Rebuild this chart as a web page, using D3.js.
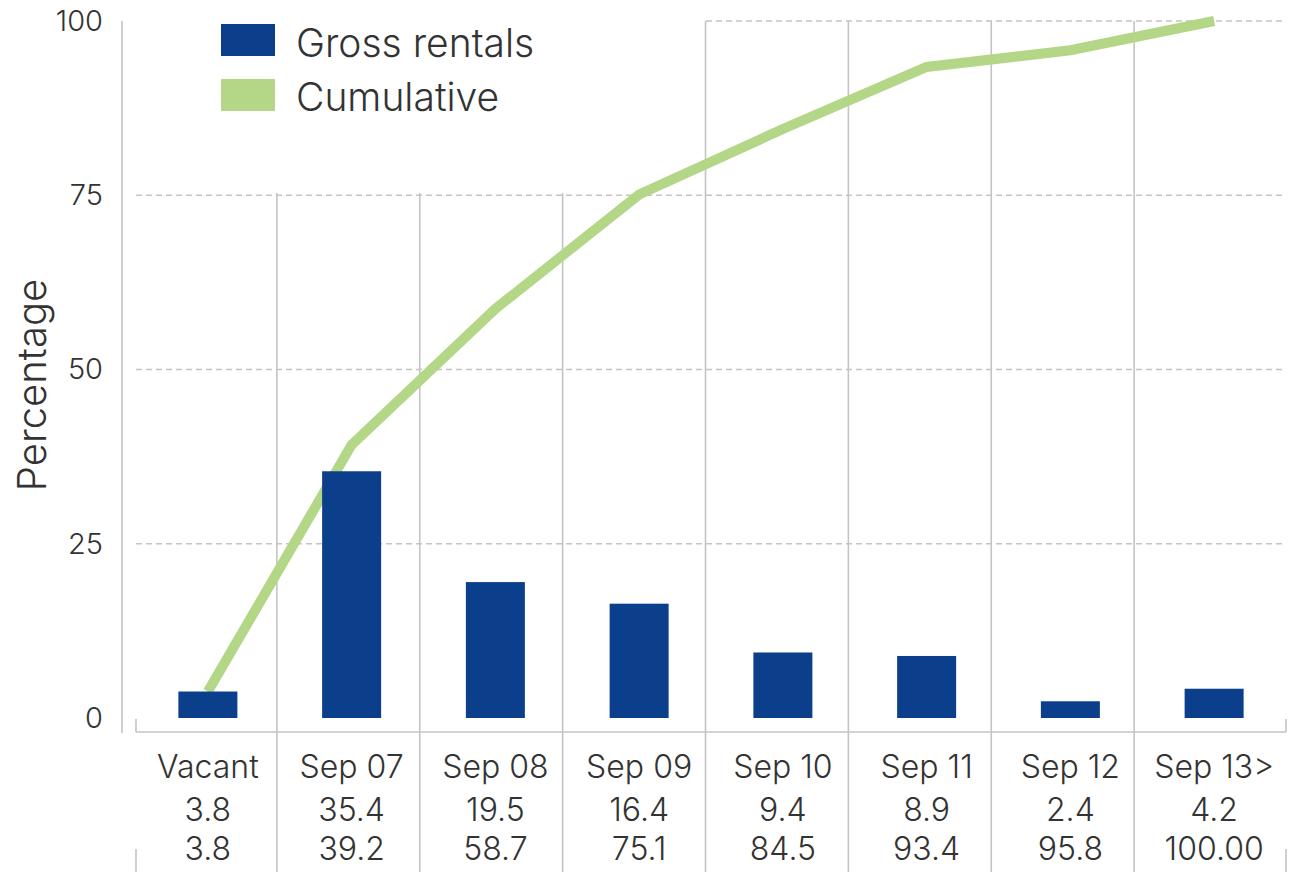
<!DOCTYPE html>
<html>
<head>
<meta charset="utf-8">
<script src="https://cdn.jsdelivr.net/npm/d3@7"></script>
<style>
  html, body { margin: 0; padding: 0; background: #fff; }
  svg { display: block; }
  text { font-family: Inter, Roboto, "Liberation Sans", sans-serif; font-weight: 300; fill: #333; }
</style>
</head>
<body>
<svg id="chart" width="1290" height="872"></svg>
<script>
// Rental expiry profile: share of gross rentals per lease expiry period
const categories = ["Vacant", "Sep 07", "Sep 08", "Sep 09", "Sep 10", "Sep 11", "Sep 12", "Sep 13>"];
const grossRentals = [3.8, 35.4, 19.5, 16.4, 9.4, 8.9, 2.4, 4.2];
const cumulative = [3.8, 39.2, 58.7, 75.1, 84.5, 93.4, 95.8, 100];
const cumulativeLabels = ["3.8", "39.2", "58.7", "75.1", "84.5", "93.4", "95.8", "100.00"];
const yTicks = [0, 25, 50, 75, 100];
const legendItems = ["Gross rentals", "Cumulative"];

const BLUE = "#0b3f8b";
const GREEN = "#b3d786";
const GRID = "#c4c4c4";

const svg = d3.select("#chart");

const x = d3.scaleBand().domain(categories).range([136, 1286]).padding(0);
const xTable = d3.scaleBand().domain(categories).range([134, 1277]).padding(0);
const y = d3.scaleLinear().domain([0, 100]).range([718, 21]);
const barWidth = 59;
const axisBottomY = 732;

// Dashed horizontal gridlines
svg.append("g")
  .selectAll("line")
  .data(yTicks.filter(d => d > 0))
  .join("line")
  .attr("x1", 136).attr("x2", 1286)
  .attr("y1", d => y(d)).attr("y2", d => y(d))
  .attr("stroke", GRID).attr("stroke-width", 1.3)
  .attr("stroke-dasharray", "6,4");

// Vertical column separators running through the plot and the table
svg.append("g")
  .selectAll("line")
  .data(categories.slice(1))
  .join("line")
  .attr("x1", d => xTable(d)).attr("x2", d => xTable(d))
  .attr("y1", y(100)).attr("y2", 872)
  .attr("stroke", GRID).attr("stroke-width", 1.6);

// Baseline of the category table with end ticks
const base = svg.append("g").attr("stroke", GRID).attr("stroke-width", 1.6);
base.append("line").attr("x1", 136).attr("x2", 1286).attr("y1", axisBottomY).attr("y2", axisBottomY);
[136, 1286].forEach(px => {
  base.append("line").attr("x1", px).attr("x2", px).attr("y1", 719).attr("y2", axisBottomY);
  base.append("line").attr("x1", px).attr("x2", px).attr("y1", 849).attr("y2", 872);
});

// Legend panel background (sits under the data marks)
svg.append("rect")
  .attr("x", 124).attr("y", 0).attr("width", 580).attr("height", 193)
  .attr("fill", "#fff");

// Cumulative line
const line = d3.line()
  .x((d, i) => x(categories[i]) + x.bandwidth() / 2)
  .y(d => y(d));
svg.append("path")
  .datum(cumulative)
  .attr("d", line)
  .attr("fill", "none")
  .attr("stroke", GREEN)
  .attr("stroke-width", 10)
  .attr("stroke-linejoin", "miter")
  .attr("stroke-linecap", "butt");

// Gross rental bars
svg.append("g")
  .selectAll("rect")
  .data(grossRentals)
  .join("rect")
  .attr("x", (d, i) => x(categories[i]) + x.bandwidth() / 2 - barWidth / 2)
  .attr("width", barWidth)
  .attr("y", d => y(d))
  .attr("height", d => y(0) - y(d))
  .attr("fill", BLUE);

// Legend entries
const legend = svg.append("g");
[BLUE, GREEN].forEach((c, i) => {
  legend.append("rect")
    .attr("x", 221).attr("y", 24 + i * 55).attr("width", 54).attr("height", 32)
    .attr("fill", c);
  legend.append("text")
    .attr("x", 296).attr("y", 57 + i * 54)
    .attr("font-size", 39)
    .text(legendItems[i]);
});

// Y axis
const yAxis = d3.axisLeft(y).tickValues(yTicks).tickSize(0).tickPadding(19);
const yG = svg.append("g").attr("transform", "translate(122,0)").call(yAxis);
yG.select(".domain").remove();
yG.selectAll("text")
  .attr("font-size", 29)
  .attr("font-family", null)
  .attr("fill", "#333");
svg.append("line")
  .attr("x1", 122).attr("x2", 122).attr("y1", y(100)).attr("y2", 733)
  .attr("stroke", GRID).attr("stroke-width", 1.6);

svg.append("text")
  .attr("transform", "translate(46,385) rotate(-90)")
  .attr("text-anchor", "middle")
  .attr("font-size", 40)
  .text("Percentage");

// Category table: name, gross rental share, cumulative share
const rows = [categories, grossRentals.map(String), cumulativeLabels];
const rowBaselines = [778, 821, 860];
rows.forEach((row, r) => {
  svg.append("g")
    .selectAll("text")
    .data(row)
    .join("text")
    .attr("x", (d, i) => x(categories[i]) + x.bandwidth() / 2)
    .attr("y", rowBaselines[r])
    .attr("text-anchor", "middle")
    .attr("font-size", 32)
    .text(d => d);
});
</script>
</body>
</html>
